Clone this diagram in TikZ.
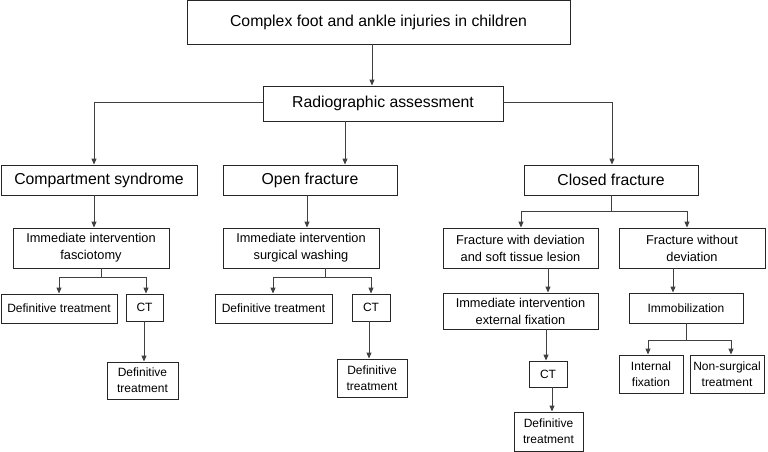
\documentclass[tikz,border=0pt]{standalone}
\usepackage{fontspec}
\setmainfont{Liberation Sans}
\usetikzlibrary{arrows.meta}
\begin{document}
\begin{tikzpicture}[x=1pt,y=-1pt,
  box/.style={draw=black!85, line width=0.9pt, inner sep=0pt, align=center, font=\fontsize{12}{16}\selectfont},
  mid/.style={box, font=\fontsize{12.8}{17}\selectfont},
  big/.style={box, font=\fontsize{15.8}{19}\selectfont},
  arr/.style={draw=black!75, line width=0.9pt, -{Triangle[length=6pt,width=5pt]}},
  ln/.style={draw=black!75, line width=0.9pt}]
\useasboundingbox (0,0) rectangle (768,452);
% nodes
\node[big, minimum width=383, minimum height=43.5] (top) at (378.5,22.25) {Complex foot and ankle injuries in children};
\node[big, minimum width=240, minimum height=35] (rad) at (383,103.5) {Radiographic assessment};
\node[big, minimum width=196, minimum height=30] (comp) at (99,180) {Compartment syndrome};
\node[big, minimum width=174, minimum height=30] (open) at (310,180) {Open fracture};
\node[big, minimum width=174, minimum height=30] (closed) at (611,180) {Closed fracture};
\node[mid, minimum width=156, minimum height=40] (fasc) at (91,248) {Immediate intervention\\fasciotomy};
\node[mid, minimum width=156, minimum height=40] (wash) at (301,248) {Immediate intervention\\surgical washing};
\node[mid, minimum width=155, minimum height=40] (dev) at (520.5,248) {Fracture with deviation\\and soft tissue lesion};
\node[mid, minimum width=146, minimum height=40] (nodev) at (692,248) {Fracture without\\deviation};
\node[box, minimum width=116, minimum height=29] (def1) at (59,308.5) {Definitive treatment};
\node[box, minimum width=37, minimum height=27] (ct1) at (144.5,307.5) {CT};
\node[box, minimum width=71, minimum height=37] (def1b) at (142.5,380.5) {Definitive\\treatment};
\node[box, minimum width=117, minimum height=29] (def2) at (273.5,308.5) {Definitive treatment};
\node[box, minimum width=38, minimum height=27] (ct2) at (371,307.5) {CT};
\node[box, minimum width=70, minimum height=38] (def2b) at (372,378) {Definitive\\treatment};
\node[mid, minimum width=155, minimum height=36] (exfix) at (520.5,311) {Immediate intervention\\external fixation};
\node[box, minimum width=114, minimum height=30] (immob) at (686,308) {Immobilization};
\node[box, minimum width=38, minimum height=26] (ct3) at (548,374) {CT};
\node[box, minimum width=69, minimum height=39] (def3) at (548.5,431.5) {Definitive\\treatment};
\node[box, minimum width=64, minimum height=38] (intfix) at (651,374) {Internal\\fixation};
\node[box, minimum width=74, minimum height=38] (nonsurg) at (727,374) {Non-surgical\\treatment};
% coordinates
\coordinate (t1) at (372,44);
\coordinate (r1) at (345,121);
\coordinate (lc) at (94,102);
\coordinate (rc) at (612,102);
% top connectors
\draw[arr] (t1) -- (t1 |- rad.north);
\draw[arr] (rad.west |- lc) -- (lc) -- (lc |- comp.north);
\draw[arr] (rad.east |- rc) -- (rc) -- (rc |- closed.north);
\draw[arr] (r1) -- (r1 |- open.north);
% compartment branch
\coordinate (c1) at (94,195);
\draw[arr] (c1) -- (c1 |- fasc.north);
\coordinate (f1) at (101,268);
\coordinate (f2) at (101,277);
\coordinate (fl) at (59,277);
\coordinate (fr) at (146,277);
\draw[ln] (f1) -- (f2);
\draw[arr] (fl) -- (fl |- def1.north);
\draw[arr] (fr) -- (fr |- ct1.north);
\draw[ln] (fl) -- (fr);
\coordinate (ct1a) at (144,321);
\draw[arr] (ct1a) -- (ct1a |- def1b.north);
% open branch
\coordinate (o1) at (307,195);
\draw[arr] (o1) -- (o1 |- wash.north);
\coordinate (w1) at (325,268);
\coordinate (w2) at (325,277);
\coordinate (wl) at (273,277);
\coordinate (wr) at (371,277);
\draw[ln] (w1) -- (w2);
\draw[ln] (wl) -- (wr);
\draw[arr] (wl) -- (wl |- def2.north);
\draw[arr] (wr) -- (wr |- ct2.north);
\coordinate (ct2a) at (369,321);
\draw[arr] (ct2a) -- (ct2a |- def2b.north);
% closed branch
\coordinate (k1) at (611,195);
\coordinate (k2) at (611,211);
\coordinate (kl) at (521,211);
\coordinate (kr) at (687,211);
\draw[ln] (k1) -- (k2);
\draw[ln] (kl) -- (kr);
\draw[arr] (kl) -- (kl |- dev.north);
\draw[arr] (kr) -- (kr |- nodev.north);
\coordinate (d1) at (548,268);
\draw[arr] (d1) -- (d1 |- exfix.north);
\coordinate (e1) at (546,329);
\draw[arr] (e1) -- (e1 |- ct3.north);
\coordinate (ct3a) at (552,387);
\draw[arr] (ct3a) -- (ct3a |- def3.north);
\coordinate (n1) at (673,268);
\draw[arr] (n1) -- (n1 |- immob.north);
\coordinate (m1) at (686,323);
\coordinate (m2) at (686,340);
\coordinate (ml) at (648,340);
\coordinate (mr) at (731,340);
\draw[ln] (m1) -- (m2);
\draw[ln] (ml) -- (mr);
\draw[arr] (ml) -- (ml |- intfix.north);
\draw[arr] (mr) -- (mr |- nonsurg.north);
\end{tikzpicture}
\end{document}
